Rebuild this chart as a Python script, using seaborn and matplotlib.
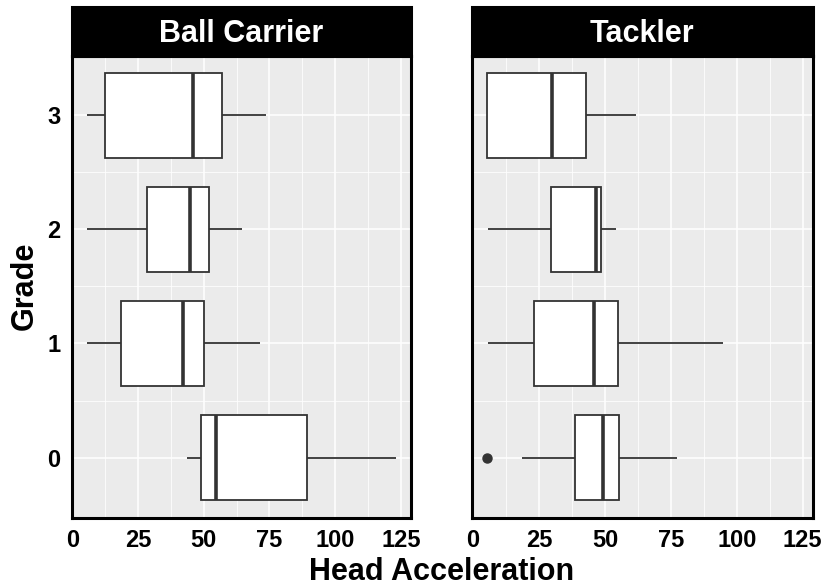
import numpy as np
import pandas as pd
import seaborn as sns
import matplotlib.pyplot as plt
from matplotlib.patches import Rectangle

# valores (mín. do bigode, Q1, mediana, Q3, máx. do bigode)
grades = ['3', '2', '1', '0']
roles = ['Ball Carrier', 'Tackler']

bc_grade0 = [43.5, 48.8, 54.6, 89.2, 123.2]
bc_grade1 = [5.5, 18.5, 42.2, 49.9, 71.4]
bc_grade2 = [5.5, 28.3, 44.8, 52.0, 64.4]
bc_grade3 = [5.5, 12.4, 46.0, 56.8, 73.7]

# grade 0 do tackler tem um outlier em ~5.3
tk_grade0 = [5.3, 18.7, 38.7, 38.7, 49.1, 49.1, 55.2, 55.2, 77.2]
tk_grade1 = [5.5, 23.1, 45.9, 54.8, 94.9]
tk_grade2 = [5.5, 29.5, 46.7, 48.6, 54.2]
tk_grade3 = [5.1, 5.1, 29.8, 42.9, 61.6]

x_ticks = [0, 25, 50, 75, 100, 125]


def build_df():
    rows = []
    groups = {
        ('Ball Carrier', '0'): bc_grade0, ('Ball Carrier', '1'): bc_grade1,
        ('Ball Carrier', '2'): bc_grade2, ('Ball Carrier', '3'): bc_grade3,
        ('Tackler', '0'): tk_grade0, ('Tackler', '1'): tk_grade1,
        ('Tackler', '2'): tk_grade2, ('Tackler', '3'): tk_grade3,
    }
    for (role, grade), vals in groups.items():
        for v in vals:
            rows.append({'role': role, 'grade': grade, 'accel': v})
    return pd.DataFrame(rows)


def make_plot(df):
    sns.set_style('white')
    plt.rcParams['font.family'] = ['Liberation Sans', 'DejaVu Sans']

    W, H = 826, 588
    fig = plt.figure(figsize=(W / 100, H / 100), dpi=100)
    top, bottom = 56, 518
    lefts = [(71.5, 410.5), (472, 812.5)]
    strip_h = 49 / (bottom - top)

    for i, role in enumerate(roles):
        x0, x1 = lefts[i]
        ax = fig.add_axes([x0 / W, (H - bottom) / H, (x1 - x0) / W, (bottom - top) / H])
        ax.set_facecolor('#EBEBEB')
        sns.boxplot(data=df[df['role'] == role], x='accel', y='grade', order=grades,
                    color='white', linecolor='#333333', linewidth=1.3, width=0.75,
                    showcaps=False, ax=ax,
                    medianprops={'linewidth': 2.6, 'color': '#333333'},
                    flierprops={'marker': 'o', 'markerfacecolor': '#333333',
                                'markeredgecolor': '#333333', 'markersize': 6.5})
        ax.set_xlim(-0.4, 128.7)
        ax.set_ylim(3.53, -0.52)
        ax.set_xticks(x_ticks)
        ax.set_xticks(np.arange(12.5, 128, 25), minor=True)
        ax.set_yticks([2.5, 1.5, 0.5], minor=True)
        ax.set_axisbelow(True)
        ax.grid(which='major', color='white', linewidth=1.1)
        ax.grid(which='minor', color='white', linewidth=0.55)
        ax.tick_params(which='minor', length=0)
        ax.tick_params(which='major', length=5, width=1.1, color='#333333',
                       labelsize=17, pad=3, labelcolor='black')
        for lab in ax.get_xticklabels() + ax.get_yticklabels():
            lab.set_fontweight('bold')
        ax.set_xlabel('')
        ax.set_ylabel('')
        if i == 1:
            ax.tick_params(axis='y', left=False, labelleft=False)
        for sp in ax.spines.values():
            sp.set_color('black')
            sp.set_linewidth(2.2)

        # faixa do título do painel
        ax.add_patch(Rectangle((0, 1), 1, strip_h, transform=ax.transAxes,
                               facecolor='black', edgecolor='black', linewidth=2.2,
                               clip_on=False))
        ax.text(0.5, 1 + 14 / (bottom - top), role, transform=ax.transAxes,
                ha='center', va='baseline', color='white', fontsize=22,
                fontweight='bold')

    fig.text(25 / W, 1 - 286 / H, 'Grade', rotation=90, ha='center', va='center',
             fontsize=22, fontweight='bold', color='black')
    fig.text(442 / W, 1 - 572 / H, 'Head Acceleration', ha='center', va='center',
             fontsize=22, fontweight='bold', color='black')
    fig.savefig('out.png', dpi=100, facecolor='white')


if __name__ == "__main__":
    df = build_df()
    make_plot(df)
